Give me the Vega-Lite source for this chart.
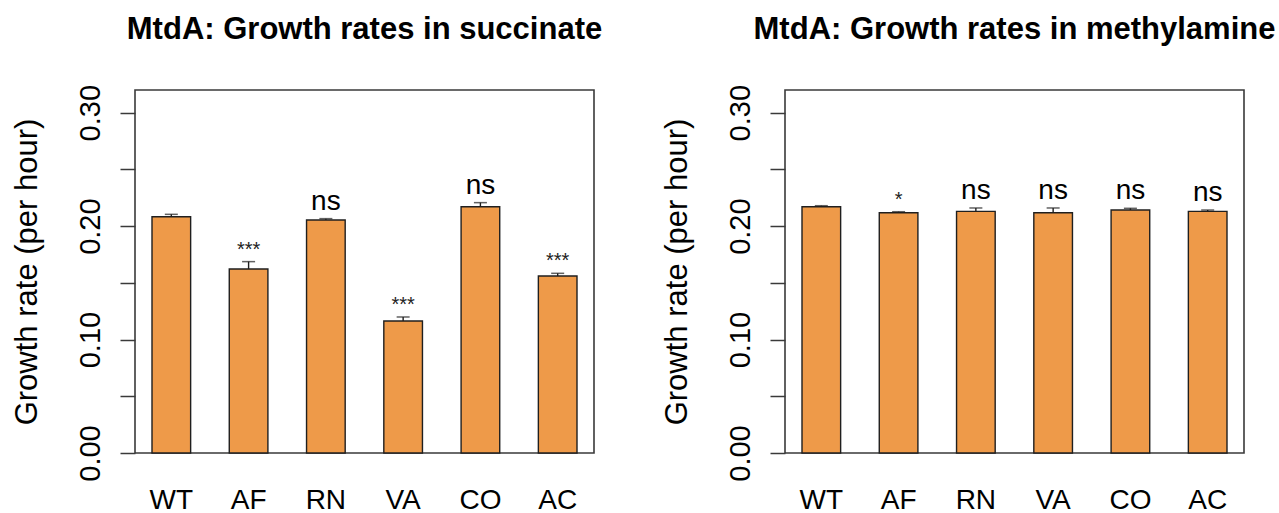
{
  "$schema": "https://vega.github.io/schema/vega-lite/v6.json",
  "padding": {"left": 10, "top": 13, "right": 5, "bottom": 0},
  "bounds": "flush",
  "spacing": 191,
  "config": {
    "font": "Liberation Sans",
    "view": {"stroke": "#3a3a3a", "strokeWidth": 1.6},
    "axis": {"labelColor": "#000", "titleColor": "#000", "grid": false}
  },
  "data": {
    "values": [
      {"panel": "succinate", "strain": "WT", "rate": 0.2083, "upper": 0.2104, "sig": ""},
      {"panel": "succinate", "strain": "AF", "rate": 0.1622, "upper": 0.1687, "sig": "***"},
      {"panel": "succinate", "strain": "RN", "rate": 0.2054, "upper": 0.2066, "sig": "ns"},
      {"panel": "succinate", "strain": "VA", "rate": 0.1164, "upper": 0.1199, "sig": "***"},
      {"panel": "succinate", "strain": "CO", "rate": 0.2171, "upper": 0.2207, "sig": "ns"},
      {"panel": "succinate", "strain": "AC", "rate": 0.1560, "upper": 0.1584, "sig": "***"},
      {"panel": "methylamine", "strain": "WT", "rate": 0.2171, "upper": 0.2180, "sig": ""},
      {"panel": "methylamine", "strain": "AF", "rate": 0.2118, "upper": 0.2127, "sig": "*"},
      {"panel": "methylamine", "strain": "RN", "rate": 0.2130, "upper": 0.2160, "sig": "ns"},
      {"panel": "methylamine", "strain": "VA", "rate": 0.2118, "upper": 0.2160, "sig": "ns"},
      {"panel": "methylamine", "strain": "CO", "rate": 0.2142, "upper": 0.2157, "sig": "ns"},
      {"panel": "methylamine", "strain": "AC", "rate": 0.2130, "upper": 0.2142, "sig": "ns"}
    ]
  },
  "hconcat": [
    {
      "width": 459,
      "height": 363,
      "title": {"text": "MtdA: Growth rates in succinate", "fontSize": 31, "fontWeight": "bold", "color": "#000", "anchor": "middle", "frame": "group", "offset": 14, "baseline": "alphabetic"},
      "transform": [{"filter": "datum.panel === 'succinate'"}],
      "encoding": {
        "x": {
          "field": "strain", "type": "nominal", "sort": ["WT", "AF", "RN", "VA", "CO", "AC"],
          "scale": {"type": "band", "paddingInner": 0.5, "paddingOuter": 0.22},
          "axis": {"title": null, "ticks": false, "tickSize": 0, "domain": false, "labelFontSize": 28, "labelPadding": 55, "labelBaseline": "alphabetic", "labelAngle": 0}
        }
      },
      "layer": [
        {
          "mark": {"type": "bar", "fill": "#EE9A49", "stroke": "#1f1f1f", "strokeWidth": 1.4},
          "encoding": {
            "y": {
              "field": "rate", "type": "quantitative",
              "scale": {"domain": [0, 0.32], "nice": false},
              "axis": {
                "title": "Growth rate (per hour)", "titleFontSize": 31, "titleFontWeight": "normal",
                "titleX": -99, "titleY": 181.5, "titleAngle": 270, "titleAlign": "center", "titleBaseline": "alphabetic",
                "values": [0, 0.05, 0.1, 0.15, 0.2, 0.25, 0.3], "format": ".2f",
                "labelExpr": "indexof(['0.00','0.10','0.20','0.30'], datum.label) >= 0 ? datum.label : ''",
                "labelAngle": 270, "labelAlign": "center", "labelBaseline": "alphabetic", "labelPadding": 21,
                "labelFontSize": 29, "labelFlush": false, "labelOverlap": false, "labelBound": false,
                "tickSize": 15, "tickWidth": 1.5, "tickColor": "#3a3a3a", "domain": false
              }
            }
          }
        },
        {
          "mark": {"type": "rule", "stroke": "#1f1f1f", "strokeWidth": 1.4},
          "encoding": {"y": {"field": "rate", "type": "quantitative"}, "y2": {"field": "upper"}}
        },
        {
          "mark": {"type": "tick", "color": "#1f1f1f", "thickness": 1.5, "size": 13, "orient": "horizontal"},
          "encoding": {"y": {"field": "upper", "type": "quantitative"}}
        },
        {
          "transform": [{"filter": "datum.sig === 'ns'"}],
          "mark": {"type": "text", "fontSize": 28, "baseline": "alphabetic", "dy": -9, "color": "#000"},
          "encoding": {"y": {"field": "upper", "type": "quantitative"}, "text": {"field": "sig"}}
        },
        {
          "transform": [{"filter": "indexof(datum.sig, '*') >= 0"}],
          "mark": {"type": "text", "fontSize": 20, "baseline": "alphabetic", "dy": -6, "color": "#222"},
          "encoding": {"y": {"field": "upper", "type": "quantitative"}, "text": {"field": "sig"}}
        }
      ]
    },
    {
      "width": 459,
      "height": 363,
      "title": {"text": "MtdA: Growth rates in methylamine", "fontSize": 31, "fontWeight": "bold", "color": "#000", "anchor": "middle", "frame": "group", "offset": 14, "baseline": "alphabetic"},
      "transform": [{"filter": "datum.panel === 'methylamine'"}],
      "encoding": {
        "x": {
          "field": "strain", "type": "nominal", "sort": ["WT", "AF", "RN", "VA", "CO", "AC"],
          "scale": {"type": "band", "paddingInner": 0.5, "paddingOuter": 0.22},
          "axis": {"title": null, "ticks": false, "tickSize": 0, "domain": false, "labelFontSize": 28, "labelPadding": 55, "labelBaseline": "alphabetic", "labelAngle": 0}
        }
      },
      "layer": [
        {
          "mark": {"type": "bar", "fill": "#EE9A49", "stroke": "#1f1f1f", "strokeWidth": 1.4},
          "encoding": {
            "y": {
              "field": "rate", "type": "quantitative",
              "scale": {"domain": [0, 0.32], "nice": false},
              "axis": {
                "title": "Growth rate (per hour)", "titleFontSize": 31, "titleFontWeight": "normal",
                "titleX": -99, "titleY": 181.5, "titleAngle": 270, "titleAlign": "center", "titleBaseline": "alphabetic",
                "values": [0, 0.05, 0.1, 0.15, 0.2, 0.25, 0.3], "format": ".2f",
                "labelExpr": "indexof(['0.00','0.10','0.20','0.30'], datum.label) >= 0 ? datum.label : ''",
                "labelAngle": 270, "labelAlign": "center", "labelBaseline": "alphabetic", "labelPadding": 21,
                "labelFontSize": 29, "labelFlush": false, "labelOverlap": false, "labelBound": false,
                "tickSize": 15, "tickWidth": 1.5, "tickColor": "#3a3a3a", "domain": false
              }
            }
          }
        },
        {
          "mark": {"type": "rule", "stroke": "#1f1f1f", "strokeWidth": 1.4},
          "encoding": {"y": {"field": "rate", "type": "quantitative"}, "y2": {"field": "upper"}}
        },
        {
          "mark": {"type": "tick", "color": "#1f1f1f", "thickness": 1.5, "size": 13, "orient": "horizontal"},
          "encoding": {"y": {"field": "upper", "type": "quantitative"}}
        },
        {
          "transform": [{"filter": "datum.sig === 'ns'"}],
          "mark": {"type": "text", "fontSize": 28, "baseline": "alphabetic", "dy": -9, "color": "#000"},
          "encoding": {"y": {"field": "upper", "type": "quantitative"}, "text": {"field": "sig"}}
        },
        {
          "transform": [{"filter": "indexof(datum.sig, '*') >= 0"}],
          "mark": {"type": "text", "fontSize": 20, "baseline": "alphabetic", "dy": -6, "color": "#222"},
          "encoding": {"y": {"field": "upper", "type": "quantitative"}, "text": {"field": "sig"}}
        }
      ]
    }
  ]
}
